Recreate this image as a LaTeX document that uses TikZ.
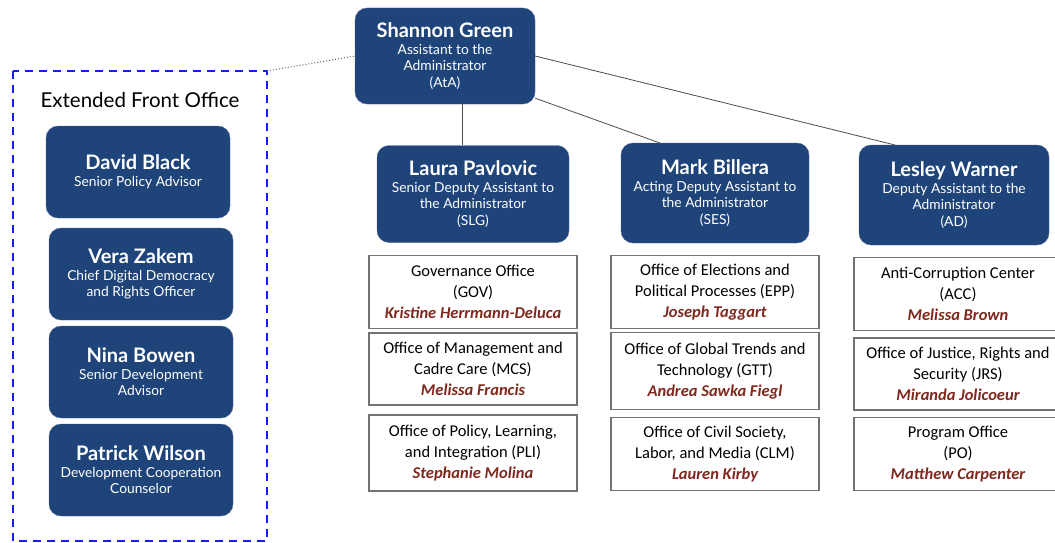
\documentclass[tikz,border=0pt]{standalone}
\usepackage{fontspec}
\setmainfont{Lato}
\newfontfamily\officefont{Carlito}
\usepackage{xcolor}
\definecolor{navy}{RGB}{31,68,122}
\definecolor{namered}{RGB}{128,40,30}
\definecolor{frameblue}{RGB}{25,25,255}

\begin{document}
\begin{tikzpicture}[x=1pt,y=-1pt]
		\tikzstyle{every node}+=[inner sep=0pt]
		\tikzstyle{lead}=[fill=navy, draw=navy!80!white, rounded corners=12pt, text=white, align=center,
			font=\fontsize{13.8}{16.5}\selectfont]
		\tikzstyle{office}=[draw=black!55, line width=1.6pt, fill=white, align=center, minimum width=208pt,
			font=\officefont\fontsize{16.5}{21}\selectfont]
		\tikzstyle{link}=[draw=black!70, line width=0.8pt]
		\clip (0,0) rectangle (1055,543);
		\fill [white] (0,0) rectangle (1055,543);
		% extended front office
		\draw [frameblue, line width=2.4pt, dash pattern=on 8pt off 6pt] (13,71) rectangle (267,541);
		\node (efo) at (140,100) {\fontsize{20.5}{22}\selectfont Extended Front Office};
		\node [lead, minimum width=184pt, minimum height=92pt] (black) at (138,172)
			{{\fontsize{20}{22}\selectfont\bfseries David Black}\\Senior Policy Advisor};
		\node [lead, minimum width=184pt, minimum height=92pt] (zakem) at (141,274)
			{{\fontsize{20}{22}\selectfont\bfseries Vera Zakem}\\Chief Digital Democracy\\and Rights Officer};
		\node [lead, minimum width=184pt, minimum height=92pt] (bowen) at (141,372)
			{{\fontsize{20}{22}\selectfont\bfseries Nina Bowen}\\Senior Development\\Advisor};
		\node [lead, minimum width=184pt, minimum height=92pt] (wilson) at (141,470)
			{{\fontsize{20}{22}\selectfont\bfseries Patrick Wilson}\\Development Cooperation\\Counselor};
		% front office
		\node [lead, minimum width=180pt, minimum height=96pt] (green) at (445,56)
			{{\fontsize{20}{22}\selectfont\bfseries Shannon Green}\\Assistant to the\\Administrator\\(AtA)};
		\node [lead, minimum width=192pt, minimum height=97pt] (pavlovic) at (473,194)
			{{\fontsize{20}{22}\selectfont\bfseries Laura Pavlovic}\\Senior Deputy Assistant to\\the Administrator\\(SLG)};
		\node [lead, minimum width=188pt, minimum height=100pt] (billera) at (715,193)
			{{\fontsize{20}{22}\selectfont\bfseries Mark Billera}\\Acting Deputy Assistant to\\the Administrator\\(SES)};
		\node [lead, minimum width=190pt, minimum height=100pt] (warner) at (954,195)
			{{\fontsize{20}{22}\selectfont\bfseries Lesley Warner}\\Deputy Assistant to the\\Administrator\\(AD)};
		\draw [black!60, line width=1pt, dotted] (267,71) -- (green.west);
		\draw [link] (462,104) -- (pavlovic.north -| 462,0);
		\draw [link] (green.south east) ++(0,-6) -- (660,143);
		\draw [link] (green.east) -- (895,145);
		% offices
		\node [office, minimum height=73pt] (gov) at (473,292)
			{Governance Office\\(GOV)\\\textcolor{namered}{\bfseries\itshape Kristine Herrmann-Deluca}};
		\node [office, minimum height=72pt] (mcs) at (473,369)
			{Office of Management and\\Cadre Care (MCS)\\\textcolor{namered}{\bfseries\itshape Melissa Francis}};
		\node [office, minimum height=76pt] (pli) at (473,453)
			{Office of Policy, Learning,\\and Integration (PLI)\\\textcolor{namered}{\bfseries\itshape Stephanie Molina}};
		\node [office, minimum height=73pt] (epp) at (715,292)
			{Office of Elections and\\Political Processes (EPP)\\\textcolor{namered}{\bfseries\itshape Joseph Taggart}};
		\node [office, minimum height=77pt] (gtt) at (715,371)
			{Office of Global Trends and\\Technology (GTT)\\\textcolor{namered}{\bfseries\itshape Andrea Sawka Fiegl}};
		\node [office, minimum height=73pt] (clm) at (715,454)
			{Office of Civil Society,\\Labor, and Media (CLM)\\\textcolor{namered}{\bfseries\itshape Lauren Kirby}};
		\node [office, minimum height=73pt] (acc) at (958,294)
			{Anti-Corruption Center\\(ACC)\\\textcolor{namered}{\bfseries\itshape Melissa Brown}};
		\node [office, minimum height=72pt] (jrs) at (958,374)
			{Office of Justice, Rights and\\Security (JRS)\\\textcolor{namered}{\bfseries\itshape Miranda Jolicoeur}};
		\node [office, minimum height=73pt] (po) at (958,454)
			{Program Office\\(PO)\\\textcolor{namered}{\bfseries\itshape Matthew Carpenter}};
	\end{tikzpicture}
\end{document}
